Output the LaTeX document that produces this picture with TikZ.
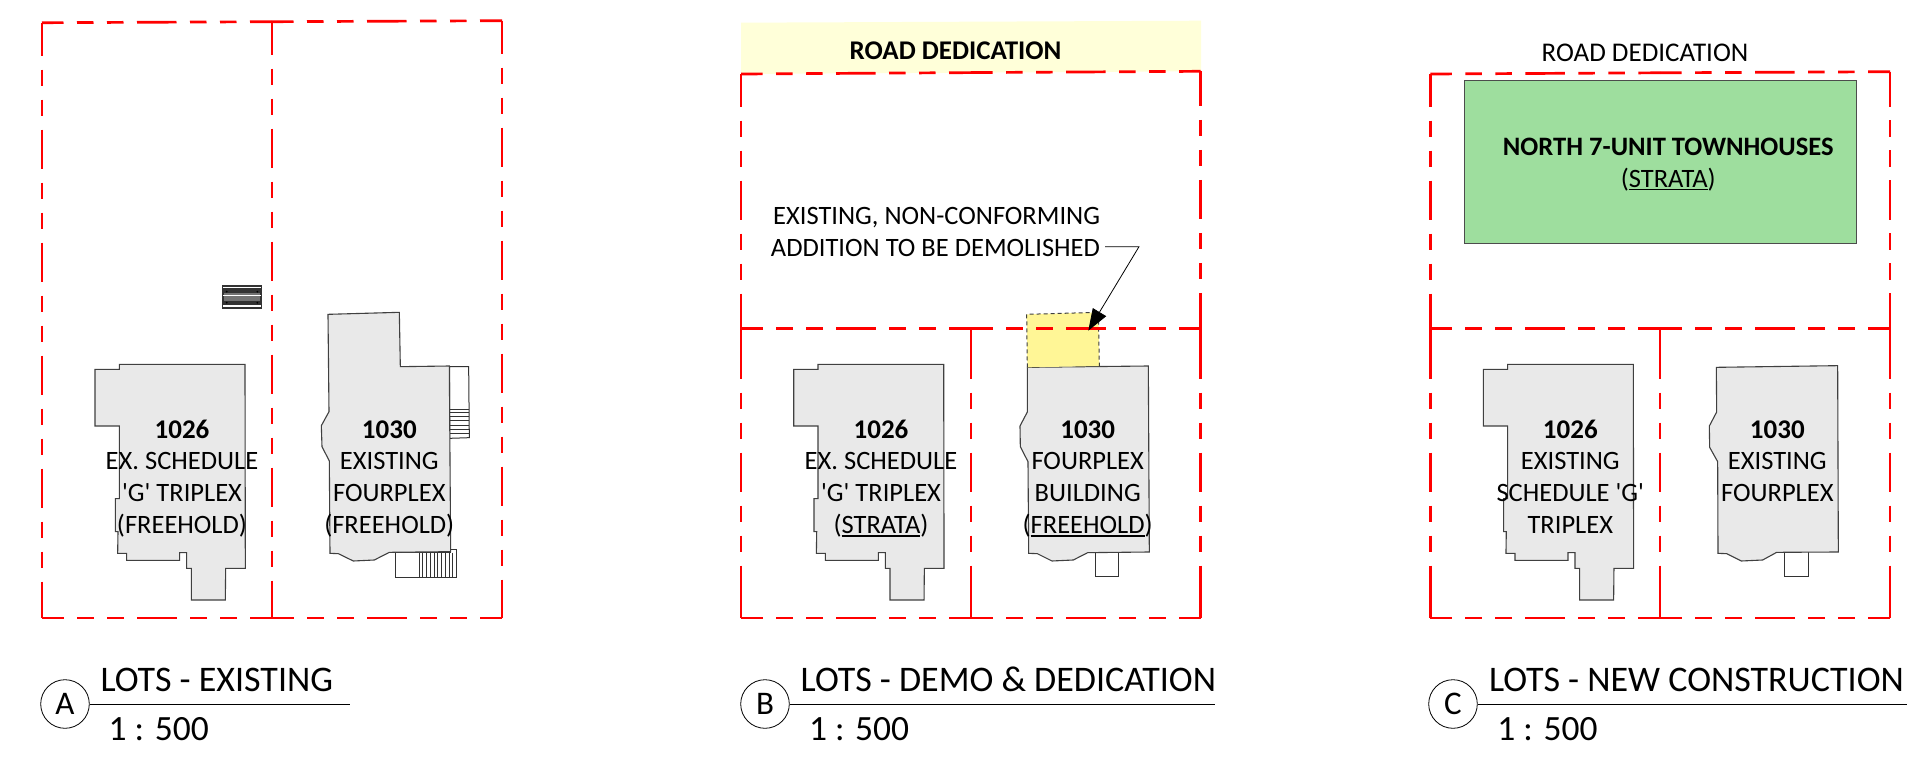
\documentclass[tikz,border=0pt]{standalone}
\usepackage{fontspec}
\newfontfamily\cfont{Carlito}
\usetikzlibrary{arrows.meta}
\definecolor{redline}{RGB}{255,0,0}
\definecolor{bldg}{RGB}{233,233,233}
\definecolor{bandy}{RGB}{255,255,217}
\definecolor{addy}{RGB}{255,246,150}
\definecolor{greenb}{RGB}{158,222,158}
\tikzset{
  lotline/.style={draw=redline,line width=2.7pt,line cap=butt,dash pattern=on 39.5pt off 13.5pt on 16.5pt off 13.5pt on 16.5pt off 13.5pt,dash phase=#1},
  lotline/.default=18pt,
  lotsolid/.style={draw=redline,line width=2.7pt,line cap=butt},
  bldgshape/.style={draw=black!75,line width=1.1pt,fill=bldg,line join=miter},
  thinshape/.style={draw=black!80,line width=1pt,fill=white},
  thinln/.style={draw=black!80,line width=.9pt},
  lab/.style={font=\cfont\fontsize{26.5}{26.5}\selectfont,anchor=base,inner sep=0pt,outer sep=0pt,text=black},
  labb/.style={lab,font=\cfont\fontsize{27}{27}\selectfont\bfseries},
  labr/.style={lab,font=\cfont\fontsize{27}{27}\selectfont},
  labn/.style={lab,font=\cfont\fontsize{26.6}{26.6}\selectfont\bfseries},
  ttl/.style={font=\cfont\fontsize{36}{36}\selectfont,anchor=base west,inner sep=0pt,outer sep=0pt},
  scl/.style={font=\cfont\fontsize{35.5}{35.5}\selectfont,anchor=base west,inner sep=0pt,outer sep=0pt},
  mark circle/.style={circle,draw=black,line width=.8pt,minimum size=48.6pt,inner sep=0pt,font=\cfont\fontsize{33}{33}\selectfont},
  zoomed/.style={x=0.33333pt,y=-0.33333pt},
}
\newcommand{\ulin}[1]{\setbox0\hbox{#1}\rlap{\rule[-3.2pt]{\wd0}{1.7pt}}\box0}
\newcommand{\bldgA}{%
  (268,283)--(645,283)--(646,895)--(587,895)--(586,990)--(484,990)--(484,895)--(470,895)--(470,848)--(449,848)--(449,871)--(290,871)--(290,850)--(263,850)--(264,785)--(256,785)--(256,686)--(268,686)--(268,468)--(195,468)--(195,298)--(268,298)--cycle}
% vertical lot line below the mid line of panels B and C
\newcommand{\lowerv}[1]{%
  \draw[lotline=102.2pt] (#1,328.7)--(#1,618);
  \draw[lotsolid] (#1,328.7)--(#1,345);
  \draw[lotsolid] (#1,603)--(#1,618);}
\begin{document}
\begin{tikzpicture}[x=1pt,y=-1pt]
\useasboundingbox (0,0) rectangle (1907,760);
\fill[white] (0,0) rectangle (1907,760);

% ---------- Panel A ----------
\coordinate (a1) at (42,22.7);
\coordinate (a2) at (272,21.7);
\coordinate (a3) at (502,20.7);
\coordinate (a4) at (502,618);
\coordinate (a5) at (272,618);
\coordinate (a6) at (42,618);
\draw[lotline] (a6)--(a5);
\draw[lotline] (a5)--(a4);
\draw[lotline=6pt] (a1)--(a6);
\draw[lotline=6pt] (a3)--(a4);
\draw[lotline] (a1)--(a2);
\draw[lotline] (a2)--(a3);
\draw[lotline=6pt] (a2)--(a5);

\begin{scope}[shift={(30,270)},zoomed]
  \draw[bldgshape] \bldgA;
  \draw[thinshape] (1259,290)--(1316,290)--(1318,503)--(1259,505)--cycle;
  \foreach \yy in {417,427,440,452,465,478,490} \draw[thinln] (1259,\yy)--(1318,\yy);
  \draw[thinshape] (1098,848)--(1098,921)--(1279,921)--(1279,838)--(1262,838)--(1262,848)--cycle;
  \foreach \xx in {1168,1178,1190,1200,1212,1222,1235,1245,1257,1268} \draw[thinln] (\xx,848)--(\xx,921);
  \draw[bldgshape] (894,133)--(1108,127)--(1111,290)--(1258,288)--(1262,845)--(1078,847)--(1033,870)--(970,873)--(925,851)--(900,850)--(898,573)--(876,530)--(874,467)--(897,425)--cycle;
\end{scope}
% hatch block
\fill[black!80] (222.3,285) rectangle (261.7,309.3);
\fill[black!55] (224,293) rectangle (260,301);
\fill[white] (223,286.7) rectangle (261,288);
\fill[white] (223,295) rectangle (261,296.3);
\fill[white] (223,305.2) rectangle (261,306.7);
\foreach \hx in {226.7,257.3} \foreach \hy in {291.7,302.7} \fill[black] (\hx,\hy) circle (1pt);

\node[labb] (a1026) at (182,438) {1026};
\node[lab] (a1026b) at (182,469) {EX. SCHEDULE};
\node[lab] (a1026c) at (182,501) {'G' TRIPLEX};
\node[lab] (a1026d) at (182,533.5) {(FREEHOLD)};
\node[labb] (a1030) at (389.3,438) {1030};
\node[lab] (a1030b) at (389.3,469) {EXISTING};
\node[lab] (a1030c) at (389.3,501) {FOURPLEX};
\node[lab] (a1030d) at (389.3,533.5) {(FREEHOLD)};

\node[mark circle] (ca) at (65,704) {A};
\coordinate (ea) at (350,704);
\draw[black,line width=1pt] (ca)--(ea);
\node[ttl] (ta) at (100.5,691.5) {LOTS - EXISTING};
\node[scl] (sa) at (108.7,740) {1 : 500};

% ---------- Panel B ----------
\fill[bandy] (741,22.7)--(1201,20.7)--(1201,71.3)--(741,74)--cycle;
\coordinate (b1) at (741,74);
\coordinate (b2) at (1200.7,71.3);
\coordinate (b2m) at (971,72.6);
\coordinate (b3) at (1200.7,618);
\coordinate (b4) at (971,618);
\coordinate (b5) at (741,618);
\coordinate (b6) at (741,328.7);
\coordinate (b7) at (971,328.7);
\coordinate (b8) at (1200.7,328.7);
\draw[lotline] (b5)--(b4);
\draw[lotline] (b4)--(b3);
\draw[lotline=6.5pt] (b1)--(b6);
\draw[lotline=4.5pt] (b2)--(b8);
\draw[lotline] (b1)--(b2m);
\draw[lotline] (b2m)--(b2);
\lowerv{741}
\lowerv{971}
\lowerv{1200.7}

\begin{scope}[shift={(728.7,270)},zoomed]
  \draw[bldgshape] \bldgA;
\end{scope}
\begin{scope}[shift={(730,180)},zoomed]
  \draw[thinshape] (1095,1118)--(1095,1190)--(1166,1190)--(1166,1118);
  \draw[bldgshape] (892,562)--(1255,558)--(1258,1116)--(1073,1118)--(1030,1140)--(966,1143)--(922,1121)--(896,1120)--(894,845)--(871,800)--(870,738)--(892,696)--cycle;
  \draw[draw=black!75,line width=1pt,fill=addy,dash pattern=on 4pt off 3pt] (892,562)--(890,403)--(1105,397)--(1108,558);
\end{scope}
\draw[lotline] (b6)--(b7);
\draw[lotline] (b7)--(b8);
\node[labb] (b1026) at (881,438) {1026};
\node[lab] (b1026b) at (881,469) {EX. SCHEDULE};
\node[lab] (b1026c) at (881,501) {'G' TRIPLEX};
\node[lab] (b1026d) at (881,533.5) {(\ulin{STRATA})};
\node[labb] (b1030) at (1087.7,438) {1030};
\node[lab] (b1030b) at (1087.7,469) {FOURPLEX};
\node[lab] (b1030c) at (1087.7,501) {BUILDING};
\node[lab] (b1030d) at (1087.7,533.5) {(\ulin{FREEHOLD})};

\node[labb] (road) at (955.5,59.3) {ROAD DEDICATION};
\node[lab,anchor=base east] (ex1) at (1100,224) {EXISTING, NON-CONFORMING};
\node[lab,anchor=base east] (ex2) at (1100,256) {ADDITION TO BE DEMOLISHED};
\coordinate (lead0) at (1105,246.7);
\coordinate (lead1) at (1139,246.7);
\coordinate (lead2) at (1088.3,330.7);
\draw[black,line width=.8pt,-{Triangle[length=21.7pt,width=15.5pt]}] (lead0)--(lead1)--(lead2);

\node[mark circle] (cb) at (765,704) {B};
\coordinate (eb) at (1215,704);
\draw[black,line width=1pt] (cb)--(eb);
\node[ttl] (tb) at (800.7,691.5) {LOTS - DEMO \& DEDICATION};
\node[scl] (sb) at (809,740) {1 : 500};

% ---------- Panel C ----------
\coordinate (c1) at (1430.3,74);
\coordinate (c2) at (1890,71.7);
\coordinate (c2m) at (1660,72.8);
\coordinate (c3) at (1890,618);
\coordinate (c4) at (1660,618);
\coordinate (c5) at (1430.3,618);
\coordinate (c6) at (1430.3,328.7);
\coordinate (c7) at (1660,328.7);
\coordinate (c8) at (1890,328.7);
\draw[lotline] (c5)--(c4);
\draw[lotline] (c4)--(c3);
\draw[lotline=6.5pt] (c1)--(c6);
\draw[lotline=4.5pt] (c2)--(c8);
\draw[lotline] (c1)--(c2m);
\draw[lotline] (c2m)--(c2);
\lowerv{1430.3}
\lowerv{1660}
\lowerv{1890}
\draw[lotline] (c6)--(c7);
\draw[lotline] (c7)--(c8);

\node[draw=black!70,line width=1pt,fill=greenb,minimum width=392pt,minimum height=162.7pt,inner sep=0pt,anchor=north west] (green) at (1464,80.3) {};
\node[labn] (north) at (1668.3,155) {NORTH 7-UNIT TOWNHOUSES};
\node[lab] (strata) at (1668.3,187.2) {(\ulin{STRATA})};
\node[labr] (road2) at (1645,62) {ROAD DEDICATION};

\begin{scope}[shift={(1418.3,270)},zoomed]
  \draw[bldgshape] \bldgA;
\end{scope}
\begin{scope}[shift={(1420,340)},zoomed]
  \draw[thinshape] (1093,637)--(1093,710)--(1164,710)--(1164,637);
  \draw[bldgshape] (889,82)--(1253,77)--(1255,636)--(1070,637)--(1028,660)--(964,663)--(920,641)--(894,640)--(893,365)--(869,322)--(868,258)--(890,216)--cycle;
\end{scope}
\node[labb] (c1026) at (1570.3,438) {1026};
\node[lab] (c1026b) at (1570.3,469) {EXISTING};
\node[lab] (c1026c) at (1570.3,501) {SCHEDULE 'G'};
\node[lab] (c1026d) at (1570.3,533.5) {TRIPLEX};
\node[labb] (c1030) at (1777.3,438) {1030};
\node[lab] (c1030b) at (1777.3,469) {EXISTING};
\node[lab] (c1030c) at (1777.3,501) {FOURPLEX};

\node[mark circle] (cc) at (1453,704) {C};
\coordinate (ec) at (1907,704);
\draw[black,line width=1pt] (cc)--(ec);
\node[ttl] (tc) at (1489,691.5) {LOTS - NEW CONSTRUCTION};
\node[scl] (sc) at (1497.3,740) {1 : 500};
\end{tikzpicture}
\end{document}
